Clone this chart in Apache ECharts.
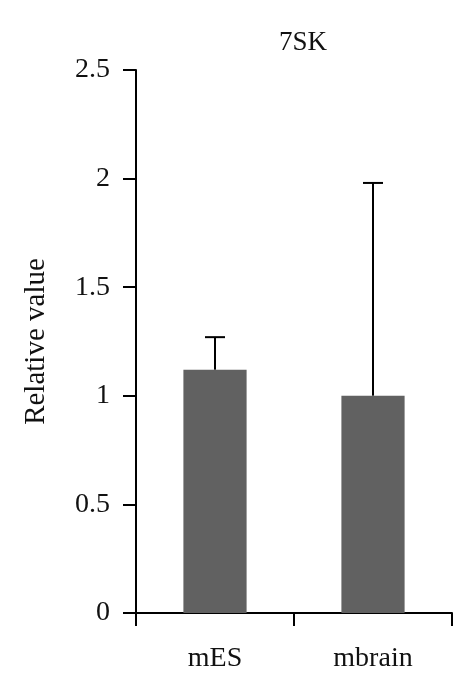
<!DOCTYPE html>
<html><head><meta charset="utf-8">
<script src="https://cdn.jsdelivr.net/npm/echarts@6/dist/echarts.min.js"></script>
<style>html,body{margin:0;padding:0;background:#fff}#c{width:473px;height:696px}</style>
</head><body><div id="c"></div>
<script>
const categories = ['mES', 'mbrain'];
const values = [1.12, 1.0];
const errorTops = [1.27, 1.98];
const yTicks = [0, 0.5, 1, 1.5, 2, 2.5];

const chart = echarts.init(document.getElementById('c'));
const font = '"Liberation Serif", "DejaVu Serif", serif';
chart.setOption({
  animation: false,
  title: { text: '7SK', left: 298, top: 24, textAlign: 'center',
    textStyle: { fontFamily: font, fontSize: 27, fontWeight: 'normal', color: '#111' } },
  grid: { left: 136, right: 21, top: 70, bottom: 83 },
  xAxis: {
    type: 'category', data: categories,
    axisLine: { lineStyle: { color: '#000', width: 2 } },
    axisTick: { show: true, length: 13, inside: false, lineStyle: { color: '#000', width: 2 } },
    axisLabel: { fontFamily: font, fontSize: 28, color: '#111', margin: 32 }
  },
  yAxis: {
    type: 'value', min: 0, max: 2.5, interval: 0.5,
    name: 'Relative value', nameLocation: 'middle', nameGap: 85, nameRotate: 90,
    nameTextStyle: { fontFamily: font, fontSize: 29, color: '#111' },
    splitLine: { show: false },
    axisLine: { show: true, lineStyle: { color: '#000', width: 2 } },
    axisTick: { show: true, length: 13, lineStyle: { color: '#000', width: 2 } },
    axisLabel: { fontFamily: font, fontSize: 28, color: '#111', margin: 26,
      formatter: v => yTicks.includes(v) ? String(v) : '' }
  },
  series: [
    { type: 'bar', data: values, barWidth: '40%',
      itemStyle: { color: '#616161' } },
    { type: 'custom', data: categories.map((c, i) => [i, values[i], errorTops[i]]),
      z: 1,
      renderItem: function (params, api) {
        const base = api.coord([api.value(0), api.value(1)]);
        const top = api.coord([api.value(0), api.value(2)]);
        const hw = 10;
        const st = { stroke: '#000', lineWidth: 2 };
        return { type: 'group', children: [
          { type: 'line', shape: { x1: base[0], y1: base[1], x2: top[0], y2: top[1] }, style: st },
          { type: 'line', shape: { x1: top[0] - hw, y1: top[1], x2: top[0] + hw, y2: top[1] }, style: st }
        ]};
      }
    }
  ]
});
</script></body></html>
